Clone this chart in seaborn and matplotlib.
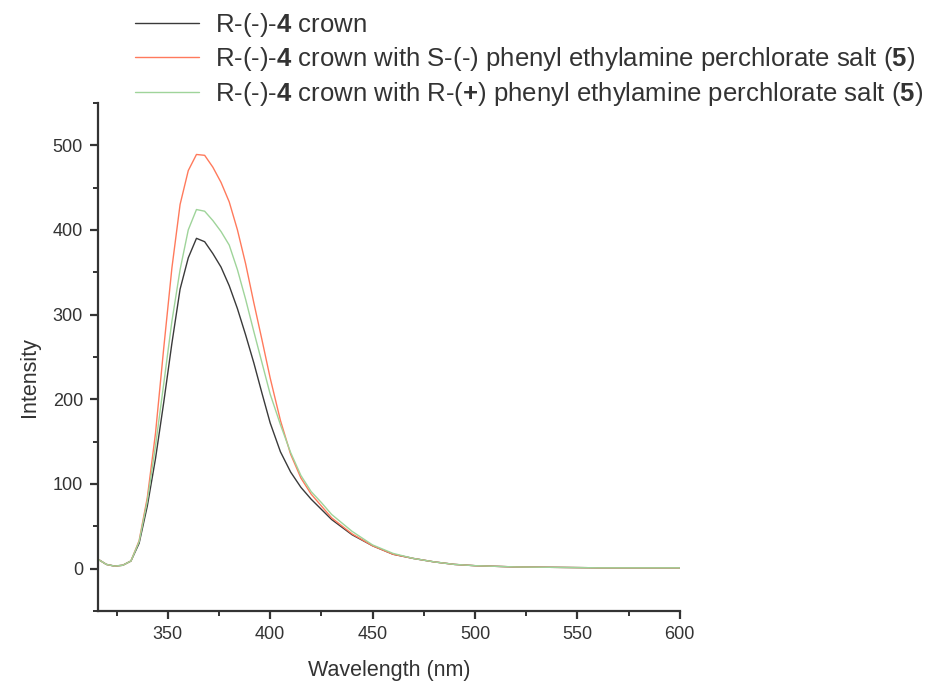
import numpy as np
import pandas as pd
import matplotlib
matplotlib.use("Agg")
import matplotlib.pyplot as plt
from matplotlib.ticker import MultipleLocator
import seaborn as sns

# Emission spectra (nm, intensity)
wavelength = [316, 320, 324, 328, 332, 336, 340, 344, 348, 352, 356, 360, 364, 368,
              372, 376, 380, 384, 388, 392, 396, 400, 405, 410, 415, 420, 425, 430,
              440, 450, 460, 470, 480, 490, 500, 520, 540, 560, 580, 600]

crown = [11, 5, 3, 4, 9, 30, 74, 130, 196, 266, 330, 367, 390, 386,
         372, 356, 334, 307, 276, 243, 207, 172, 138, 114, 96, 82, 70, 58,
         40, 27, 17, 12, 8, 5, 3.5, 2, 1.5, 1, 1, 1]

crown_s_salt = [11, 5, 3, 4, 9, 33, 84, 160, 260, 355, 430, 470, 489, 488,
                474, 456, 433, 400, 360, 314, 270, 225, 175, 135, 107, 88, 74, 60,
                41, 27, 17, 12, 8, 5, 3.5, 2, 1.5, 1, 1, 1]

crown_r_salt = [11, 5, 3, 4, 9, 32, 80, 145, 218, 292, 353, 400, 424, 422,
                411, 398, 382, 353, 318, 280, 243, 206, 170, 137, 110, 91, 78, 64,
                44, 28, 18, 12, 8, 5, 3.5, 2, 1.5, 1, 1, 1]

labels = [
    r"R-(-)-$\mathbf{4}$ crown",
    r"R-(-)-$\mathbf{4}$ crown with S-(-) phenyl ethylamine perchlorate salt ($\mathbf{5}$)",
    r"R-(-)-$\mathbf{4}$ crown with R-($\mathbf{+}$) phenyl ethylamine perchlorate salt ($\mathbf{5}$)",
]
colors = ["#3a3a3a", "#ff7a5c", "#9fd49a"]

sns.set_style("ticks")
plt.rcParams["font.family"] = ["Liberation Sans", "DejaVu Sans"]
plt.rcParams["mathtext.fontset"] = "custom"
plt.rcParams["mathtext.rm"] = "Liberation Sans"
plt.rcParams["mathtext.bf"] = "Liberation Sans:bold"

fig = plt.figure(figsize=(9.35, 6.9), dpi=100)
ax = fig.add_axes([0.105, 0.1145, 0.622, 0.7365])

for series, label, color in zip([crown, crown_s_salt, crown_r_salt], labels, colors):
    df = pd.DataFrame({"Wavelength": wavelength, "Intensity": series})
    sns.lineplot(data=df, x="Wavelength", y="Intensity", ax=ax, color=color,
                 linewidth=1.0, label=label)

ax.set_xlim(316, 600)
ax.set_ylim(-50, 550)
ax.xaxis.set_major_locator(MultipleLocator(50))
ax.xaxis.set_minor_locator(MultipleLocator(25))
ax.yaxis.set_major_locator(MultipleLocator(100))
ax.yaxis.set_minor_locator(MultipleLocator(50))
ax.set_xticks([350, 400, 450, 500, 550, 600])

for side in ["top", "right"]:
    ax.spines[side].set_visible(False)
for side in ["left", "bottom"]:
    ax.spines[side].set_linewidth(1.6)
    ax.spines[side].set_color("#333333")

ax.tick_params(which="major", direction="out", length=6, width=1.6, colors="#333333",
               labelsize=13, labelcolor="#333333", pad=5)
ax.tick_params(which="minor", direction="out", length=3.5, width=1.4, colors="#333333")

ax.set_xlabel("Wavelength (nm)", fontsize=15.5, color="#333333", labelpad=12)
ax.set_ylabel("Intensity", fontsize=15.5, color="#333333", labelpad=10)
ax.yaxis.set_label_coords(-0.1, 0.46)

handles, leg_labels = ax.get_legend_handles_labels()
ax.get_legend().remove()
fig.legend(handles, leg_labels, loc="upper left", bbox_to_anchor=(135 / 935, 1 - 11 / 690),
           frameon=False, fontsize=18.5, handlelength=2.5, handletextpad=0.62,
           labelspacing=0.25, borderpad=0, borderaxespad=0, labelcolor="#333333")

fig.savefig("out.png", dpi=100)
